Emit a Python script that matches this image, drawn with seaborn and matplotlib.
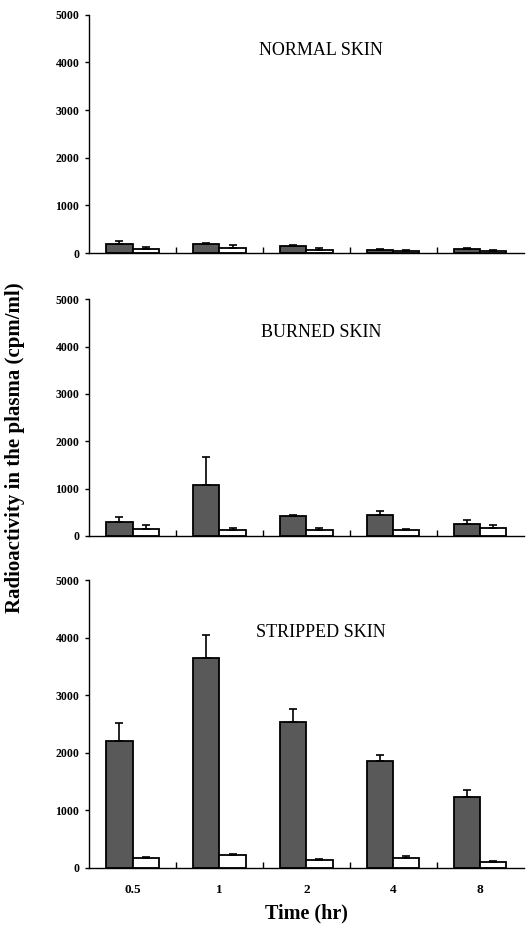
import matplotlib
matplotlib.use("Agg")
import matplotlib.pyplot as plt
import numpy as np
import pandas as pd
import seaborn as sns

# =========================
# Data
# =========================
times = ["0.5", "1", "2", "4", "8"]
groups = ["treated", "control"]
panels = ["NORMAL SKIN", "BURNED SKIN", "STRIPPED SKIN"]

normal_dark = [200, 190, 140, 60, 80]
normal_dark_err = [50, 30, 30, 15, 30]
normal_white = [80, 110, 60, 50, 40]
normal_white_err = [40, 60, 40, 10, 20]

burned_dark = [300, 1080, 410, 445, 250]
burned_dark_err = [90, 590, 30, 85, 75]
burned_white = [140, 127, 113, 113, 160]
burned_white_err = [80, 33, 42, 28, 60]

stripped_dark = [2200, 3640, 2530, 1850, 1234]
stripped_dark_err = [310, 410, 235, 115, 126]
stripped_white = [162, 220, 140, 168, 100]
stripped_white_err = [28, 20, 16, 29, 15]

panel_data = [
    (normal_dark, normal_dark_err, normal_white, normal_white_err),
    (burned_dark, burned_dark_err, burned_white, burned_white_err),
    (stripped_dark, stripped_dark_err, stripped_white, stripped_white_err),
]

sns.set_style("ticks", {"text.color": "black", "axes.edgecolor": "black",
                        "xtick.color": "black", "ytick.color": "black",
                        "axes.labelcolor": "black"})
plt.rcParams['font.family'] = ['Liberation Serif', 'DejaVu Serif']

fig = plt.figure(figsize=(5.27, 9.27), dpi=100)

# axes positions in figure fraction
positions = [
    [0.169, 0.727, 0.825, 0.257],
    [0.169, 0.422, 0.825, 0.255],
    [0.169, 0.064, 0.825, 0.310],
]
title_y = [0.85, 0.86, 0.82]

for i, (dark, dark_err, white, white_err) in enumerate(panel_data):
    ax = fig.add_axes(positions[i])

    df = pd.DataFrame({
        "time": times * 2,
        "group": [groups[0]] * 5 + [groups[1]] * 5,
        "value": dark + white,
    })

    sns.barplot(
        data=df, x="time", y="value", hue="group",
        order=times, hue_order=groups,
        palette=["#595959", "white"],
        edgecolor="black", linewidth=1.3,
        width=0.6, errorbar=None, legend=False, ax=ax
    )

    # one-sided error bars on top of each bar
    errs = dark_err + white_err
    vals = dark + white
    for patch, v, e in zip(ax.patches, vals, errs):
        xc = patch.get_x() + patch.get_width() / 2
        ax.errorbar(xc, v, yerr=[[0], [e]], fmt="none",
                    ecolor="black", elinewidth=1.2, capsize=3, capthick=1.2)

    ax.set_ylim(0, 5000)
    ax.set_xlim(-0.5, 4.5)
    ax.set_yticks(range(0, 5001, 1000))
    ax.set_xticks(np.arange(0.5, 4.5, 1.0), minor=True)
    ax.tick_params(axis="x", which="minor", direction="in", length=4, width=1)
    ax.tick_params(axis="x", which="major", length=0, pad=12)
    ax.tick_params(axis="y", direction="out", length=3, width=1, pad=4)
    for lab in ax.get_yticklabels():
        lab.set_fontsize(8.5)
        lab.set_fontweight("bold")
    ax.set_xlabel("")
    ax.set_ylabel("")
    if i < 2:
        ax.set_xticklabels([])
    else:
        for lab in ax.get_xticklabels():
            lab.set_fontsize(9.5)
            lab.set_fontweight("bold")
        ax.set_xlabel("Time (hr)", fontsize=14.5, fontweight="bold", labelpad=5)

    sns.despine(ax=ax)
    ax.spines["left"].set_linewidth(1.0)
    ax.spines["bottom"].set_linewidth(1.0)

    ax.text(0.534, title_y[i], panels[i], transform=ax.transAxes,
            ha="center", va="center", fontsize=13, color="black")

fig.text(0.028, 0.517, "Radioactivity in the plasma (cpm/ml)", rotation=90,
         ha="center", va="center", fontsize=15, fontweight="bold", color="black")

fig.savefig("out.png", dpi=100)
